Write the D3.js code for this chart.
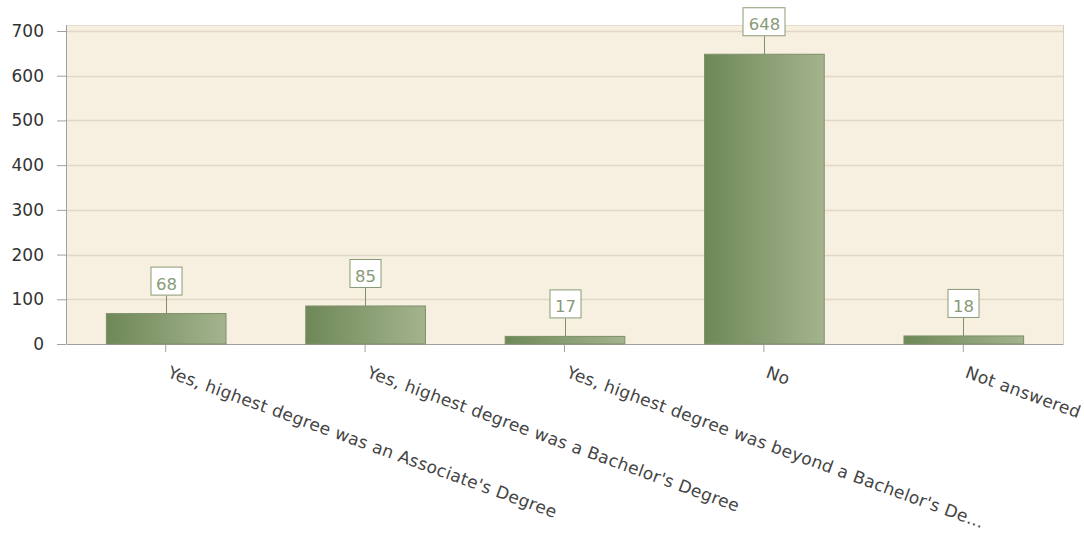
<!DOCTYPE html>
<html><head><meta charset="utf-8">
<script src="https://cdn.jsdelivr.net/npm/d3@7/dist/d3.min.js"></script>
<style>body{margin:0;background:#fff;}svg{display:block;font-family:Tahoma,"DejaVu Sans",sans-serif;}</style>
</head><body><svg id="c" width="1084" height="533"></svg>
<script>
const categories = ["Yes, highest degree was an Associate's Degree","Yes, highest degree was a Bachelor's Degree","Yes, highest degree was beyond a Bachelor's De...","No","Not answered"];
const values = [68, 85, 17, 648, 18];
const yTicks = [0,100,200,300,400,500,600,700];

const svg = d3.select("#c");
const m = {l:66, r:1063, t:25, b:344};
const x = d3.scaleBand().domain(categories).range([m.l, m.r]).paddingInner(0.4).paddingOuter(0.2);
const y = d3.scaleLinear().domain([0,700]).range([m.b, 31]);

const defs = svg.append("defs");
const g = defs.append("linearGradient").attr("id","bg").attr("x1","0").attr("x2","1").attr("y1","0").attr("y2","0");
g.append("stop").attr("offset","0").attr("stop-color","#6e8857");
g.append("stop").attr("offset","1").attr("stop-color","#a4b48e");

svg.append("rect").attr("x",m.l).attr("y",m.t).attr("width",m.r-m.l).attr("height",m.b-m.t).attr("fill","#f7efdf");
svg.append("line").attr("x1",m.l).attr("x2",m.r).attr("y1",m.t+0.5).attr("y2",m.t+0.5).attr("stroke","#e3dccf");
svg.append("line").attr("x1",m.r+0.5).attr("x2",m.r+0.5).attr("y1",m.t).attr("y2",m.b).attr("stroke","#d8d0c2");

svg.selectAll(".grid").data(yTicks.filter(d=>d>0)).enter().append("line")
  .attr("x1",m.l).attr("x2",m.r).attr("y1",d=>Math.round(y(d))+0.5).attr("y2",d=>Math.round(y(d))+0.5)
  .attr("stroke","#e0d7c5").attr("stroke-width",1.5);

const yAxis = svg.append("g").attr("transform",`translate(${m.l},0)`)
  .call(d3.axisLeft(y).tickValues(yTicks).tickSize(9).tickPadding(13));
yAxis.select(".domain").attr("stroke","#a0a0a0").attr("d",`M0.5,${m.t}V${m.b}`);
yAxis.selectAll(".tick line").attr("stroke","#a0a0a0");
yAxis.selectAll(".tick text").attr("fill","#333").style("font-size","17px").style("font-family","Tahoma,'DejaVu Sans',sans-serif");

const xAxis = svg.append("g").attr("transform",`translate(0,${m.b})`)
  .call(d3.axisBottom(x).tickSize(8).tickSizeOuter(0));
xAxis.select(".domain").attr("stroke","#a0a0a0");
xAxis.selectAll(".tick line").attr("stroke","#a0a0a0");
xAxis.selectAll(".tick text").attr("fill","#444").style("font-size","17px").style("letter-spacing","0.3px")
  .style("font-family","Tahoma,'DejaVu Sans',sans-serif")
  .attr("text-anchor","start").attr("dy",0).attr("y",0)
  .attr("transform","translate(1,33) rotate(20)");

svg.selectAll(".bar").data(values).enter().append("rect")
  .attr("x",(d,i)=>x(categories[i])+0.5).attr("y",d=>y(d))
  .attr("width",x.bandwidth()).attr("height",d=>m.b-y(d))
  .attr("fill","url(#bg)").attr("stroke","#7d9068");

const lab = svg.selectAll(".lab").data(values).enter().append("g")
  .attr("transform",(d,i)=>`translate(${Math.round(x(categories[i])+x.bandwidth()/2)+0.5},${y(d)})`);
lab.append("line").attr("y1",0).attr("y2",-18).attr("stroke","#7d9068");
lab.append("text").attr("y",-24).attr("text-anchor","middle").attr("fill","#8a9a76")
  .style("font-size","16.5px").text(d=>d);
lab.each(function(){
  const t = d3.select(this).select("text").node().getBBox();
  d3.select(this).insert("rect","text").attr("x",Math.round(t.x)-5.5).attr("y",-46.5)
    .attr("width",Math.round(t.width)+10).attr("height",28).attr("fill","#fff").attr("stroke","#8a9a76");
});
</script></body></html>
